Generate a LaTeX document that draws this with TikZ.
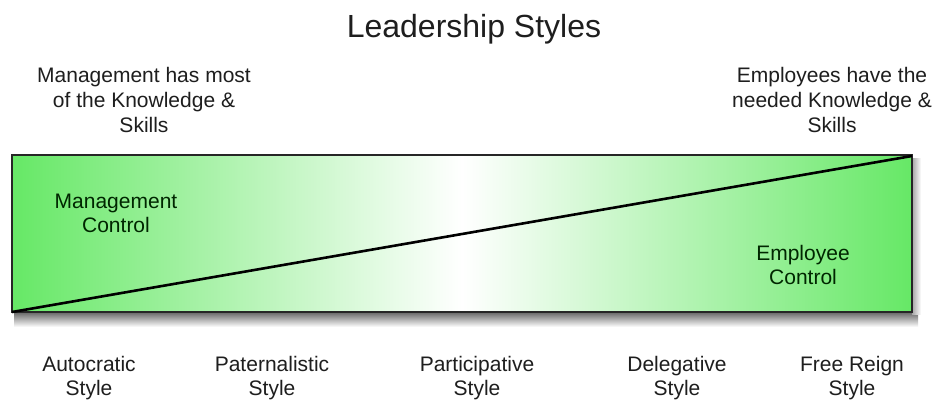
\documentclass[tikz,border=0pt]{standalone}
\usepackage{fontspec}
\setmainfont{Liberation Sans}
\definecolor{lgreen}{RGB}{102,232,102}
\definecolor{txt}{RGB}{30,30,30}
\begin{document}
\begin{tikzpicture}[x=1pt,y=-1pt,
  lbl/.style={align=center,text=txt,font=\fontsize{21}{25}\selectfont,inner sep=0pt},
  blbl/.style={align=center,text=txt,font=\fontsize{21}{24}\selectfont,inner sep=0pt},
  inlbl/.style={align=center,text=black!85!green,font=\fontsize{21}{24}\selectfont,inner sep=0pt}]
\useasboundingbox (0,0) rectangle (934,399);
\fill[white] (0,0) rectangle (934,399);
% shadow
\shade[top color=black!60,bottom color=white] (14,312) rectangle (918,327);
\shade[left color=black!35,right color=white] (912,158) rectangle (921,314);
% box
\shade[left color=lgreen,right color=lgreen,middle color=white] (12,155) rectangle (912,312);
\draw[line width=1.6pt,black!85] (12,155) rectangle (912,312);
\coordinate (bl) at (12,312);
\coordinate (tr) at (912,156);
\draw[line width=2.6pt,black] (bl) -- (tr);
\node[font=\fontsize{32}{36}\selectfont,text=txt,anchor=base,inner sep=0pt] (title) at (474,37.5) {Leadership Styles};
\node[lbl] (mk) at (144,100) {Management has most\\of the Knowledge \&\\Skills};
\node[lbl] (ek) at (832,100) {Employees have the\\needed Knowledge \&\\Skills};
\node[inlbl] (mc) at (116,213) {Management\\Control};
\node[inlbl] (ec) at (803,265) {Employee\\Control};
\node[blbl] (s1) at (89,378.5) {Autocratic\\Style};
\node[blbl] (s2) at (272,378.5) {Paternalistic\\Style};
\node[blbl] (s3) at (477,378.5) {Participative\\Style};
\node[blbl] (s4) at (677,378.5) {Delegative\\Style};
\node[blbl] (s5) at (852,378.5) {Free Reign\\Style};
\end{tikzpicture}
\end{document}
